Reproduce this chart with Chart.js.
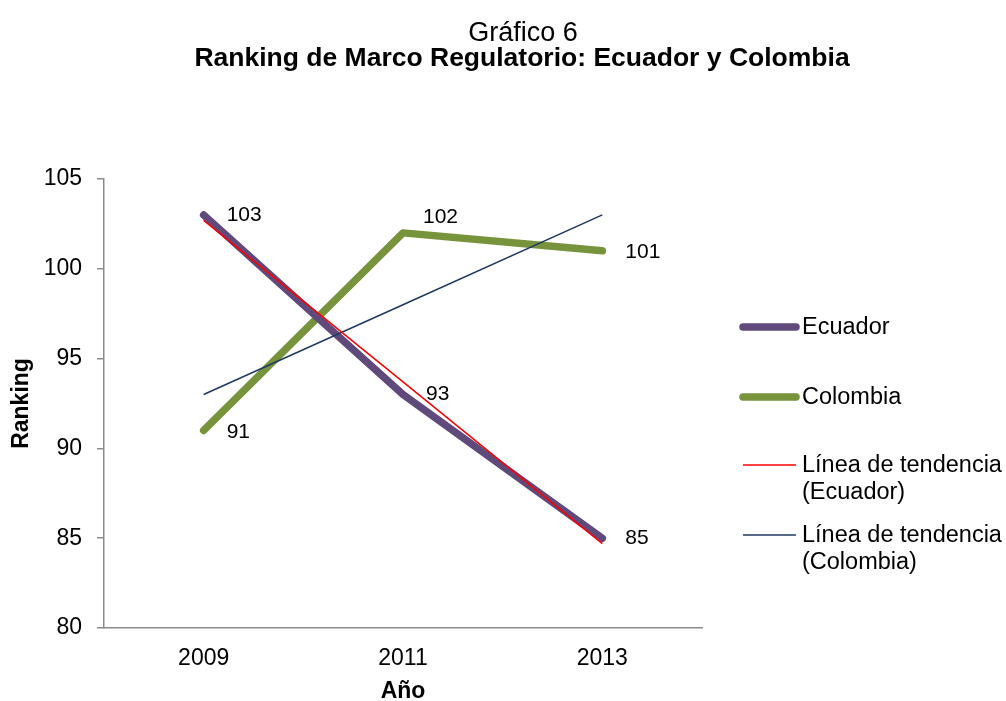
<!DOCTYPE html>
<html lang="es">
<head>
<meta charset="UTF-8">
<title>Ranking de Marco Regulatorio</title>
<style>
  html, body { margin: 0; padding: 0; background: #fff; }
  #wrap { width: 1006px; height: 701px; }
</style>
</head>
<body>
<div id="wrap"><canvas id="myChart" width="1006" height="701"></canvas></div>

<script src="https://cdn.jsdelivr.net/npm/chart.js"></script>
<script>
// datos
const anios = ['2009', '2011', '2013'];
const ecuador = [103, 93, 85];
const colombia = [91, 102, 101];
const tendEcuador = [102.7, 93.7, 84.7];
const tendColombia = [93, 98, 103];
const yTicks = [80, 85, 90, 95, 100, 105];

const FONT = '"Liberation Sans", Arial, sans-serif';

// titulo, etiquetas de valores y leyenda dibujados a mano
const extras = {
  id: 'extras',
  afterDatasetsDraw(chart) {
    const ctx = chart.ctx;
    ctx.save();
    ctx.fillStyle = '#000';
    ctx.font = '21px ' + FONT;
    ctx.textAlign = 'left';
    ctx.textBaseline = 'middle';
    chart.data.datasets.forEach((ds, i) => {
      if (!ds.showValues) return;
      const meta = chart.getDatasetMeta(i);
      meta.data.forEach((pt, j) => {
        const dx = ds.labelDx ? ds.labelDx[j] : 23;
        const dy = ds.labelDy ? ds.labelDy[j] : 0;
        ctx.fillText(String(ds.data[j]), pt.x + dx, pt.y + dy);
      });
    });
    ctx.restore();
  },
  afterDraw(chart) {
    const ctx = chart.ctx;
    ctx.save();
    ctx.fillStyle = '#000';
    ctx.textAlign = 'center';
    ctx.textBaseline = 'alphabetic';
    ctx.font = '27px ' + FONT;
    ctx.fillText('Gráfico 6', 523, 41);
    ctx.font = 'bold 26.5px ' + FONT;
    ctx.fillText('Ranking de Marco Regulatorio: Ecuador y Colombia', 522, 66);

    // leyenda
    const rows = [327, 397, 465, 535];
    ctx.font = '23.5px ' + FONT;
    ctx.textAlign = 'left';
    ctx.textBaseline = 'middle';
    rows.forEach((y, k) => {
      const ds = chart.data.datasets[k];
      ctx.beginPath();
      ctx.lineCap = ds.borderWidth > 3 ? 'round' : 'butt';
      ctx.strokeStyle = ds.borderColor;
      ctx.lineWidth = ds.borderWidth;
      ctx.moveTo(743, y);
      ctx.lineTo(796, y);
      ctx.stroke();
      ds.label.split('\n').forEach((t, n) => {
        ctx.fillText(t, 802, y + 1 + n * 27);
      });
    });
    ctx.restore();
  }
};

new Chart(document.getElementById('myChart'), {
  type: 'line',
  data: {
    labels: anios,
    datasets: [
      {
        label: 'Ecuador', data: ecuador, order: 1,
        borderColor: '#5F4A7B', borderWidth: 7.5,
        borderCapStyle: 'round', borderJoinStyle: 'round',
        showValues: true
      },
      {
        label: 'Colombia', data: colombia, order: 1,
        borderColor: '#77933C', borderWidth: 7.5,
        borderCapStyle: 'round', borderJoinStyle: 'round',
        showValues: true, labelDx: [23, 20, 23], labelDy: [2, -16, 1]
      },
      {
        label: 'Línea de tendencia\n(Ecuador)', data: tendEcuador, order: 0,
        borderColor: '#FF0000', borderWidth: 1.5
      },
      {
        label: 'Línea de tendencia\n(Colombia)', data: tendColombia, order: 0,
        borderColor: '#1F3A60', borderWidth: 1.5
      }
    ]
  },
  options: {
    responsive: false,
    animation: false,
    layout: { padding: { top: 179, right: 304, left: 0, bottom: 0 } },
    elements: { point: { radius: 0, hoverRadius: 0 }, line: { tension: 0 } },
    plugins: {
      legend: { display: false },
      title: { display: false },
      tooltip: { enabled: false }
    },
    scales: {
      x: {
        offset: true,
        grid: { drawOnChartArea: false, drawTicks: false },
        border: { display: true, color: '#8C8C8C', width: 1.5 },
        ticks: { color: '#000', font: { family: FONT, size: 23 }, padding: 17 },
        title: {
          display: true, text: 'Año', color: '#000',
          font: { family: FONT, size: 23, weight: 'bold', lineHeight: 0.8 },
          padding: 0
        },
        afterFit(scale) { scale.height = 73; }
      },
      y: {
        min: 80, max: 105,
        afterBuildTicks(scale) { scale.ticks = yTicks.map(v => ({ value: v })); },
        grid: { drawOnChartArea: false, drawTicks: true, tickLength: 7, color: '#8C8C8C', lineWidth: 1.5 },
        border: { display: true, color: '#8C8C8C', width: 1.5 },
        ticks: { color: '#000', font: { family: FONT, size: 23 }, padding: 15 },
        title: {
          display: true, text: 'Ranking', color: '#000',
          font: { family: FONT, size: 23, weight: 'bold' },
          padding: { top: 8, bottom: 0 }
        },
        afterFit(scale) { scale.width = 104; }
      }
    }
  },
  plugins: [extras]
});
</script>
</body>
</html>
